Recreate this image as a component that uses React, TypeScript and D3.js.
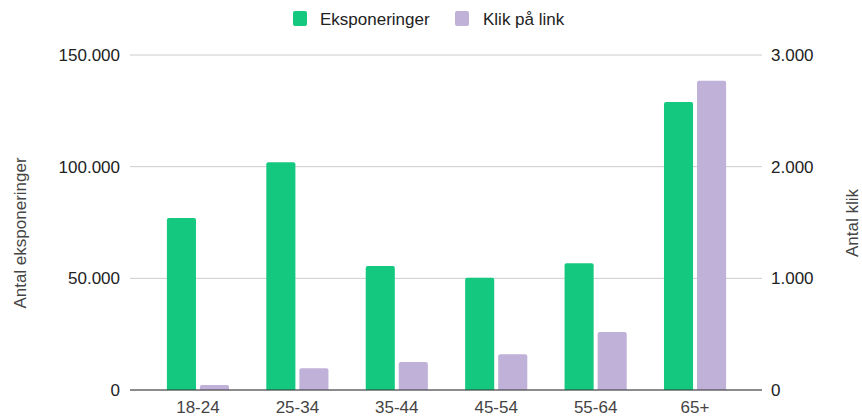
import React from 'react';
import * as d3 from 'd3';

const ageGroups = ['18-24', '25-34', '35-44', '45-54', '55-64', '65+'];
const exposures = [77000, 102000, 55500, 50300, 56800, 129000];
const clicks = [45, 195, 250, 320, 520, 2770];
const leftTicks = [0, 50000, 100000, 150000];
const rightTicks = [0, 1000, 2000, 3000];

const W = 862;
const H = 419;
const greenColor = '#14c97f';
const purpleColor = '#c0b1d9';
const font = 'Arial, "Liberation Sans", sans-serif';

const fmt = (v: number) => d3.format(',')(v).replace(/,/g, '.');

function roundTopBar(x: number, y: number, w: number, h: number, r: number) {
  const rr = Math.min(r, h / 2, w / 2);
  return `M${x},${y + h}V${y + rr}Q${x},${y} ${x + rr},${y}H${x + w - rr}Q${x + w},${y} ${x + w},${y + rr}V${y + h}Z`;
}

export default function App() {
  const gridLeft = 130;
  const gridRight = 762;
  const top = 55;
  const bottom = 390;

  const x = d3.scaleBand<string>().domain(ageGroups).range([148, 745]).paddingInner(0.375).paddingOuter(0.19);
  const sub = d3.scaleBand<string>().domain(['e', 'k']).range([0, x.bandwidth()]).paddingInner(0.12);
  const yL = d3.scaleLinear().domain([0, 150000]).range([bottom, top]);
  const yR = d3.scaleLinear().domain([0, 3000]).range([bottom, top]);

  return (
    <svg width={W} height={H} style={{ position: 'absolute', left: 0, top: 0, background: '#fff' }} fontFamily={font}>
      {/* legend */}
      <g>
        <rect x={293} y={11} width={14} height={15} rx={2} fill={greenColor} />
        <text x={320} y={24.5} fontSize={17} fill="#222">Eksponeringer</text>
        <rect x={455} y={11} width={14} height={15} rx={2} fill={purpleColor} />
        <text x={483} y={24.5} fontSize={17} fill="#222">Klik på link</text>
      </g>

      {/* gridlines */}
      {leftTicks.map(t => (
        <line key={t} x1={gridLeft} x2={gridRight} y1={yL(t)} y2={yL(t)} stroke="#cccccc" strokeWidth={1} />
      ))}

      {/* left ticks */}
      {leftTicks.map(t => (
        <text key={'l' + t} x={120} y={yL(t) + 6} textAnchor="end" fontSize={17} fill="#222">{fmt(t)}</text>
      ))}
      {/* right ticks */}
      {rightTicks.map(t => (
        <text key={'r' + t} x={771} y={yR(t) + 6} textAnchor="start" fontSize={17} fill="#222">{fmt(t)}</text>
      ))}

      {/* bars */}
      {ageGroups.map((g, i) => {
        const x0 = x(g)!;
        const ye = yL(exposures[i]);
        const yk = yR(clicks[i]);
        return (
          <g key={g}>
            <path d={roundTopBar(x0 + sub('e')!, ye, sub.bandwidth(), bottom - ye, 2)} fill={greenColor} />
            <path d={roundTopBar(x0 + sub('k')!, yk, sub.bandwidth(), bottom - yk, 2)} fill={purpleColor} />
            <text x={x0 + x.bandwidth() / 2} y={bottom + 23} textAnchor="middle" fontSize={17} fill="#444">{g}</text>
          </g>
        );
      })}

      {/* baseline */}
      <line x1={gridLeft} x2={gridRight} y1={bottom} y2={bottom} stroke="#333" strokeWidth={1.2} />

      {/* axis titles */}
      <text transform={`translate(26,233) rotate(-90)`} textAnchor="middle" fontSize={17} fill="#444">Antal eksponeringer</text>
      <text transform={`translate(858,223) rotate(-90)`} textAnchor="middle" fontSize={17} fill="#444">Antal klik</text>
    </svg>
  );
}
